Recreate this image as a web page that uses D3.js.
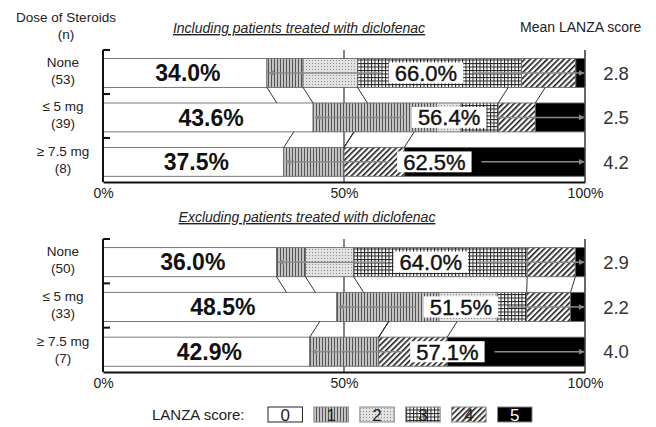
<!DOCTYPE html>
<html lang="en">
<head>
<meta charset="UTF-8">
<title>LANZA score by dose of steroids</title>
<script src="https://d3js.org/d3.v7.min.js"></script>
<style>
  body { margin: 0; background: #fff; }
  svg { display: block; font-family: "Liberation Sans", Arial, sans-serif; }
</style>
</head>
<body>
<svg id="chart" width="656" height="427"></svg>
<script>
// categories and scores
const categories = ["None", "≤ 5 mg", "≥ 7.5 mg"];
const scores = [0, 1, 2, 3, 4, 5];
const xTicks = [0, 50, 100];

// Including patients treated with diclofenac (percent of patients per LANZA score)
const inclN = [53, 39, 8];
const inclPct = [
  [34.0, 7.5, 11.3, 34.0, 11.3, 1.9],
  [43.6, 25.6, 5.1, 7.7, 7.7, 10.3],
  [37.5, 12.5, 0, 0, 12.5, 37.5]
];
const inclMean = ["2.8", "2.5", "4.2"];

// Excluding patients treated with diclofenac
const exclN = [50, 33, 7];
const exclPct = [
  [36.0, 6.0, 10.0, 36.0, 10.0, 2.0],
  [48.5, 21.2, 12.1, 6.1, 9.1, 3.0],
  [42.9, 14.3, 0, 0, 14.2, 28.6]
];
const exclMean = ["2.9", "2.2", "4.0"];

const svg = d3.select('#chart');
const x = d3.scaleLinear().domain([0, 100]).range([103, 585]);

// fill patterns for scores
const defs = svg.append('defs');
let p = defs.append('pattern').attr('id', 'p1').attr('patternUnits', 'userSpaceOnUse')
  .attr('width', 3).attr('height', 3);
p.append('rect').attr('width', 3).attr('height', 3).attr('fill', '#c4c4c4');
p.append('rect').attr('x', 1).attr('width', 1).attr('height', 3).attr('fill', '#555');

p = defs.append('pattern').attr('id', 'p2').attr('patternUnits', 'userSpaceOnUse')
  .attr('width', 3).attr('height', 3);
p.append('rect').attr('width', 3).attr('height', 3).attr('fill', '#e2e2e2');
p.append('rect').attr('width', 1).attr('height', 1).attr('fill', '#8a8a8a');

p = defs.append('pattern').attr('id', 'p3').attr('patternUnits', 'userSpaceOnUse')
  .attr('width', 3.5).attr('height', 3.5);
p.append('rect').attr('width', 3.5).attr('height', 3.5).attr('fill', '#fff');
p.append('rect').attr('width', 1).attr('height', 3.5).attr('fill', '#222');
p.append('rect').attr('width', 3.5).attr('height', 1).attr('fill', '#222');

p = defs.append('pattern').attr('id', 'p4').attr('patternUnits', 'userSpaceOnUse')
  .attr('width', 4).attr('height', 4).attr('patternTransform', 'rotate(45)');
p.append('rect').attr('width', 4).attr('height', 4).attr('fill', '#fff');
p.append('rect').attr('width', 1.6).attr('height', 4).attr('fill', '#1a1a1a');

const fills = ['#fff', 'url(#p1)', 'url(#p2)', 'url(#p3)', 'url(#p4)', '#000'];

defs.append('marker').attr('id', 'arrow').attr('viewBox', '0 0 10 10')
  .attr('refX', 9).attr('refY', 5).attr('markerWidth', 4).attr('markerHeight', 4)
  .attr('orient', 'auto-start-reverse')
  .append('path').attr('d', 'M0,0 L10,5 L0,10 z').attr('fill', '#8a8a8a');

svg.append('rect').attr('width', 656).attr('height', 427).attr('fill', '#fff');

// header texts
svg.append('text').attr('x', 66).attr('y', 22).attr('text-anchor', 'middle')
  .attr('font-size', 13.5).attr('fill', '#222').text('Dose of Steroids');
svg.append('text').attr('x', 66).attr('y', 39).attr('text-anchor', 'middle')
  .attr('font-size', 13.5).attr('fill', '#222').text('(n)');
svg.append('text').attr('x', 520).attr('y', 32)
  .attr('font-size', 14).attr('fill', '#222').text('Mean LANZA score');

function drawPanel(y0, y1, title, titleX, pct, nList, means) {
  const g = svg.append('g');
  const y = d3.scaleBand().domain(categories).range([y0, y1])
    .paddingInner(0.35).paddingOuter(0.16).align(0.6);
  const bh = y.bandwidth();

  g.append('text').attr('x', titleX).attr('y', y0 - 17).attr('text-anchor', 'middle')
    .attr('font-size', 14).attr('font-style', 'italic').attr('fill', '#222')
    .style('text-decoration', 'underline').text(title);

  // 50% gridline and right frame
  g.append('line').attr('x1', x(50)).attr('x2', x(50)).attr('y1', y0).attr('y2', y1)
    .attr('stroke', '#333').attr('stroke-width', 1.2);
  g.append('line').attr('x1', x(100)).attr('x2', x(100)).attr('y1', y0).attr('y2', y1)
    .attr('stroke', '#333').attr('stroke-width', 1.5);

  const rows = categories.map((c, i) => {
    const cum = [0];
    pct[i].forEach(v => cum.push(cum[cum.length - 1] + v));
    return { cat: c, i, cum, vals: pct[i] };
  });

  // stacked segments
  rows.forEach(r => {
    g.append('g').selectAll('rect').data(scores).join('rect')
      .attr('x', s => x(r.cum[s]))
      .attr('width', s => x(r.cum[s + 1]) - x(r.cum[s]))
      .attr('y', y(r.cat)).attr('height', bh)
      .attr('fill', s => fills[s])
      .attr('stroke', '#6a6a6a').attr('stroke-width', 0.9)
      .attr('display', s => r.vals[s] > 0 ? null : 'none');
  });

  // connector lines between neighbouring bars
  for (let k = 0; k < rows.length - 1; k++) {
    const a = rows[k], b = rows[k + 1];
    const yA = y(a.cat) + bh, yB = y(b.cat);
    for (let s = 1; s < scores.length; s++) {
      const u = x(a.cum[s]), l = x(b.cum[s]);
      let xa, xb;
      if (u <= l) { xa = u; xb = u + Math.min(l - u, 10); }
      else { xb = l; xa = l + Math.min(u - l, 10); }
      g.append('line').attr('x1', xa).attr('y1', yA).attr('x2', xb).attr('y2', yB)
        .attr('stroke', '#333').attr('stroke-width', 1);
    }
  }

  rows.forEach(r => {
    const cy = y(r.cat) + bh / 2;
    // score 0 label
    g.append('text').attr('x', (x(0) + x(r.cum[1])) / 2 + 3).attr('y', cy).attr('dy', '0.36em')
      .attr('text-anchor', 'middle').attr('font-size', 23).attr('font-weight', 'bold')
      .attr('fill', '#111').text(r.vals[0].toFixed(1) + '%');

    // score >= 1 label with arrows
    const start = x(r.cum[1]), mid = (start + x(100)) / 2;
    const t = g.append('text').attr('x', mid).attr('y', cy).attr('dy', '0.36em')
      .attr('text-anchor', 'middle').attr('font-size', 22).attr('fill', '#111')
      .attr('stroke', '#111').attr('stroke-width', 0.4)
      .text((100 - r.vals[0]).toFixed(1) + '%');
    const tw = t.node().getComputedTextLength();
    const bx0 = mid - tw / 2 - 6, bx1 = mid + tw / 2 + 6;
    g.append('line').attr('x1', bx0 - 8).attr('x2', start + 2).attr('y1', cy).attr('y2', cy)
      .attr('stroke', '#8a8a8a').attr('stroke-width', 1.5).attr('marker-end', 'url(#arrow)');
    g.append('line').attr('x1', bx1 + 10).attr('x2', x(100) - 1).attr('y1', cy).attr('y2', cy)
      .attr('stroke', '#8a8a8a').attr('stroke-width', 1.5).attr('marker-end', 'url(#arrow)');
    g.insert('rect', () => t.node()).attr('x', bx0).attr('width', bx1 - bx0)
      .attr('y', y(r.cat) + 4).attr('height', bh - 8).attr('fill', '#fff');
    t.raise();

    // category labels
    g.append('text').attr('x', 63).attr('y', cy - 6).attr('text-anchor', 'middle')
      .attr('font-size', 13.5).attr('fill', '#222').text(r.cat);
    g.append('text').attr('x', 63).attr('y', cy + 11).attr('text-anchor', 'middle')
      .attr('font-size', 13.5).attr('fill', '#222').text('(' + nList[r.i] + ')');

    // mean score
    g.append('text').attr('x', 616).attr('y', cy).attr('dy', '0.36em').attr('text-anchor', 'middle')
      .attr('font-size', 18.5).attr('fill', '#333').text(means[r.i]);
  });

  // left axis with ticks between categories
  const step = (y1 - y0) / categories.length;
  g.append('line').attr('x1', x(0)).attr('x2', x(0)).attr('y1', y0).attr('y2', y1)
    .attr('stroke', '#111').attr('stroke-width', 2);
  g.append('g').selectAll('line').data(d3.range(categories.length)).join('line')
    .attr('x1', x(0)).attr('x2', x(0) + 7)
    .attr('y1', i => y0 + i * step).attr('y2', i => y0 + i * step)
    .attr('stroke', '#111').attr('stroke-width', 2);

  // bottom axis
  const ax = g.append('g').attr('transform', `translate(0,${y1})`)
    .call(d3.axisBottom(x).tickValues(xTicks).tickSize(0).tickPadding(6).tickFormat(d => d + '%'));
  ax.select('.domain').attr('stroke', '#111').attr('stroke-width', 2);
  ax.selectAll('text').attr('font-size', 14).attr('fill', '#222')
    .attr('font-family', '"Liberation Sans", Arial, sans-serif');
}

drawPanel(50, 182, 'Including patients treated with diclofenac', 299, inclPct, inclN, inclMean);
drawPanel(239, 372, 'Excluding patients treated with diclofenac', 307, exclPct, exclN, exclMean);

// legend
const lx = d3.scaleBand().domain(scores).range([268, 532]).paddingInner(0.25);
svg.append('text').attr('x', 152).attr('y', 420).attr('font-size', 15).attr('fill', '#222')
  .text('LANZA score:');
const lg = svg.append('g').selectAll('g').data(scores).join('g');
lg.append('rect').attr('x', s => lx(s)).attr('y', 407).attr('width', lx.bandwidth()).attr('height', 15)
  .attr('fill', s => fills[s]).attr('stroke', s => s === 0 ? '#222' : '#888').attr('stroke-width', 1);
lg.append('text').attr('x', s => lx(s) + lx.bandwidth() / 2).attr('y', 421).attr('text-anchor', 'middle')
  .attr('font-size', 17).attr('fill', s => s === 5 ? '#fff' : '#222').text(s => s);
</script>
</body>
</html>
